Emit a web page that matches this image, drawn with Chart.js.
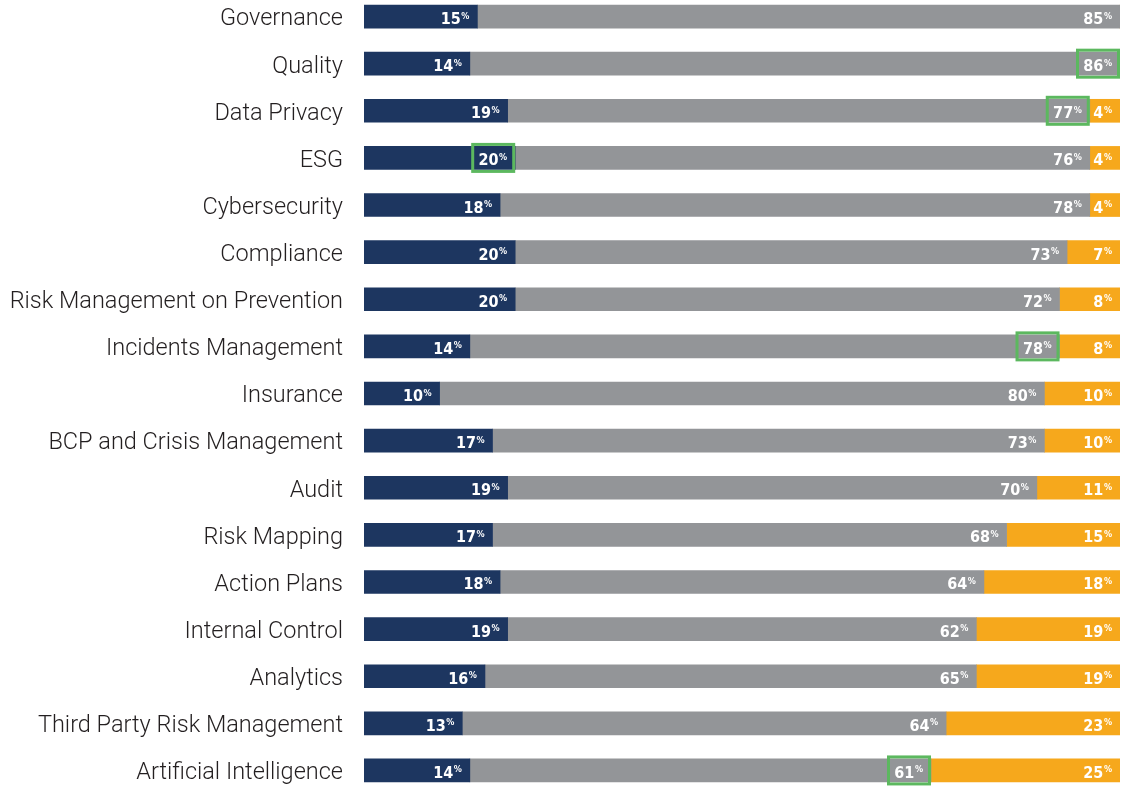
<!DOCTYPE html>
<html>
<head>
<meta charset="utf-8">
<script src="https://cdn.jsdelivr.net/npm/chart.js@4/dist/chart.umd.min.js"></script>
<style>
  html, body { margin: 0; padding: 0; background: #fff; overflow: hidden; width: 1124px; height: 790px; }
  #wrap { position: absolute; left: 0; top: -7px; width: 1124px; height: 801px; }
</style>
</head>
<body>
<div id="wrap"><canvas id="myChart"></canvas></div>
<script>
var categories = ["Governance", "Quality", "Data Privacy", "ESG", "Cybersecurity", "Compliance",
    "Risk Management on Prevention", "Incidents Management", "Insurance", "BCP and Crisis Management",
    "Audit", "Risk Mapping", "Action Plans", "Internal Control", "Analytics",
    "Third Party Risk Management", "Artificial Intelligence"];
var navyValues = [15, 14, 19, 20, 18, 20, 20, 14, 10, 17, 19, 17, 18, 19, 16, 13, 14];
var grayValues = [85, 86, 77, 76, 78, 73, 72, 78, 80, 73, 70, 68, 64, 62, 65, 64, 61];
var orangeValues = [0, 0, 4, 4, 4, 7, 8, 8, 10, 10, 11, 15, 18, 19, 19, 23, 25];
// labels framed in green: [category index, dataset index]
var highlighted = [[1, 1], [2, 1], [3, 0], [7, 1], [16, 1]];

var colors = ['#1d3660', '#939598', '#f6a81c'];
const ctx = document.getElementById("myChart").getContext("2d");

const barLabels = {
    id: 'barLabels',
    afterDatasetsDraw(chart) {
        const c = chart.ctx;
        c.save();
        chart.data.datasets.forEach((ds, d) => {
            const meta = chart.getDatasetMeta(d);
            meta.data.forEach((bar, i) => {
                const v = ds.data[i];
                if (!v) return;
                c.fillStyle = '#fff';
                c.textAlign = 'right';
                c.textBaseline = 'alphabetic';
                c.font = 'bold 9px "DejaVu Sans Condensed"';
                const pctRight = bar.x - 8;
                const pctW = c.measureText('%').width;
                c.fillText('%', pctRight, bar.y + 2);
                c.font = 'bold 16px "DejaVu Sans Condensed"';
                c.fillText(String(v), pctRight - pctW - 0.5, bar.y + 7.5);
            });
        });
        c.strokeStyle = '#5cb85f';
        c.lineWidth = 3;
        highlighted.forEach(h => {
            const bar = chart.getDatasetMeta(h[1]).data[h[0]];
            c.strokeRect(bar.x - 44 + 1.5, bar.y - 15 + 1.5, 41, 27);
        });
        c.restore();
    }
};

new Chart(ctx, {
    type: 'bar',
    data: {
        labels: categories,
        datasets: [
            { label: 'A', data: navyValues, backgroundColor: colors[0] },
            { label: 'B', data: grayValues, backgroundColor: colors[1] },
            { label: 'C', data: orangeValues, backgroundColor: colors[2] }
        ]
    },
    options: {
        indexAxis: 'y',
        responsive: true,
        maintainAspectRatio: false,
        animation: false,
        layout: { padding: { left: 0, right: 4, top: 0, bottom: 0 } },
        datasets: { bar: { barThickness: 23, borderWidth: 0, borderSkipped: false } },
        plugins: {
            legend: { display: false },
            tooltip: { enabled: false }
        },
        scales: {
            x: { stacked: true, min: 0, max: 100, display: false },
            y: {
                stacked: true,
                grid: { display: false },
                border: { display: false },
                ticks: {
                    padding: 13,
                    labelOffset: 3,
                    color: '#231f20',
                    font: { family: 'Roboto', weight: 300, size: 23.5 }
                },
                afterFit: function(s) {
                    s.width = 364;
                    s.paddingTop = 0;
                    s.paddingBottom = 0;
                }
            }
        }
    },
    plugins: [barLabels]
});
</script>
</body>
</html>
